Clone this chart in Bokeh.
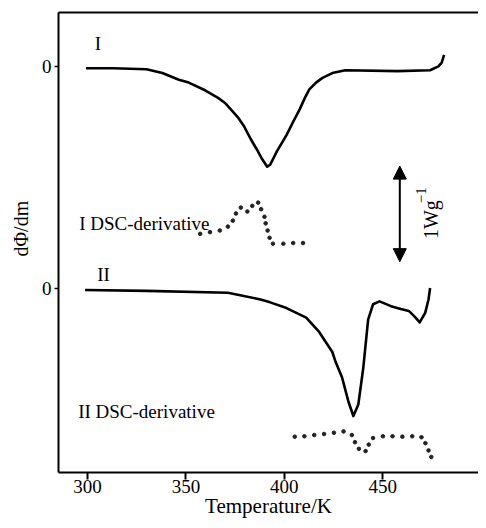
import math
from bokeh.plotting import figure
from bokeh.models import (Range1d, FixedTicker, CustomJSTickFormatter, LinearAxis,
                          Label, Arrow, NormalHead, Title)
from bokeh.embed import file_html
from bokeh.resources import INLINE

# ---- data (temperature in K, heat-flow signal in W/g relative to each baseline) ----
t_I = [299.2, 312.9, 329.9, 338.0, 346.4, 351.4, 359.7, 366.3, 369.7, 372.8, 376.3,
       379.6, 382.9, 386.3, 388.7, 391.3, 392.8, 396.2, 401.1, 404.5, 407.8, 410.2,
       412.7, 416.1, 419.4, 424.4, 431.0, 457.5, 474.1, 478.3, 480.0, 481.2]
s_I = [-0.02, -0.02, -0.03, -0.07, -0.14, -0.17, -0.25, -0.33, -0.38, -0.45, -0.53,
       -0.63, -0.76, -0.88, -0.97, -1.05, -1.03, -0.89, -0.72, -0.58, -0.45, -0.34,
       -0.24, -0.17, -0.12, -0.07, -0.04, -0.05, -0.04, 0.00, 0.04, 0.12]

t_II = [298.7, 329.9, 371.3, 376.3, 387.9, 392.8, 401.1, 411.1, 417.7, 424.4, 426.0,
        429.4, 432.6, 435.1, 437.6, 440.1, 442.6, 445.1, 448.4, 454.2, 459.2, 463.3,
        466.7, 468.8, 471.6, 473.3, 474.1]
s_II = [-0.02, -0.03, -0.05, -0.07, -0.12, -0.15, -0.21, -0.31, -0.46, -0.67, -0.77,
        -0.94, -1.19, -1.34, -1.22, -0.84, -0.33, -0.17, -0.14, -0.19, -0.22, -0.24,
        -0.31, -0.36, -0.26, -0.12, 0.00]

td_I = [357.2, 362.2, 367.2, 371.3, 373.8, 375.4, 377.9, 381.2, 383.7, 386.7, 388.2,
        389.9, 390.5, 391.5, 392.5, 394.2, 399.5, 404.5, 409.5]
d_I = [0.103, 0.121, 0.138, 0.179, 0.241, 0.316, 0.378, 0.337, 0.396, 0.430, 0.361,
       0.282, 0.213, 0.138, 0.062, 0.0, 0.0, 0.007, 0.007]

td_II = [405.3, 410.2, 415.2, 420.2, 425.2, 430.1, 434.3, 435.9, 437.9, 441.3, 442.9,
         445.1, 450.1, 455.0, 460.0, 465.0, 469.7, 471.7, 473.3, 474.7]
d_II = [-0.004, 0.0, 0.013, 0.024, 0.037, 0.051, 0.013, -0.062, -0.131, -0.155, -0.087,
        -0.018, 0.0, 0.0, -0.004, 0.0, -0.010, -0.072, -0.148, -0.216]

# vertical offsets of the stacked traces (W/g)
off_I = 0.0
off_II = -2.32
off_dI = -1.856
off_dII = -3.872

x_ticks = [300, 350, 400, 450]
y_ticks = [off_I, off_II]

FONT = "Liberation Serif"

p = figure(width=478, height=520, output_backend="svg", toolbar_location=None,
           x_range=Range1d(285.2, 498.7), y_range=Range1d(-4.251, 0.564),
           min_border_left=56, min_border_right=0, min_border_top=12, min_border_bottom=46)
p.outline_line_color = None
p.grid.visible = False
p.background_fill_color = "white"
p.border_fill_color = "white"

# curves
p.line(t_I, [v + off_I for v in s_I], line_color="black", line_width=2.6, line_join="round")
p.line(t_II, [v + off_II for v in s_II], line_color="black", line_width=2.6, line_join="round")
p.scatter(td_I, [v + off_dI for v in d_I], size=3.6, color="#222222", marker="circle")
p.scatter(td_II, [v + off_dII for v in d_II], size=3.6, color="#222222", marker="circle")

# axes
xa = p.xaxis[0]
xa.ticker = FixedTicker(ticks=x_ticks)
xa.major_label_standoff = 0
xa.major_tick_out = 7
xa.major_tick_in = 0
xa.minor_tick_out = 0
xa.minor_tick_in = 0
xa.axis_line_width = 2
xa.major_tick_line_width = 2
xa.axis_label = "Temperature/K"
xa.axis_label_standoff = -2

ya = p.yaxis[0]
ya.ticker = FixedTicker(ticks=y_ticks)
ya.formatter = CustomJSTickFormatter(code="return '0'")
ya.major_label_standoff = 3
ya.major_tick_out = 4
ya.major_tick_in = 0
ya.minor_tick_out = 0
ya.minor_tick_in = 0
ya.axis_line_width = 2
ya.major_tick_line_width = 1.5

for ax in (xa, ya):
    ax.major_label_text_font = FONT
    ax.major_label_text_font_size = "19px"
    ax.major_label_text_color = "black"
    ax.axis_label_text_font = FONT
    ax.axis_label_text_font_size = "21px"
    ax.axis_label_text_font_style = "normal"
    ax.axis_label_text_color = "black"

top = LinearAxis(ticker=FixedTicker(ticks=[]), major_tick_out=0, major_tick_in=0,
                 minor_tick_out=0, minor_tick_in=0, axis_line_width=2)
p.add_layout(top, "above")

p.add_layout(Title(text="dΦ/dm", align="left", offset=216, standoff=14,
                   text_font=FONT, text_font_size="20px", text_font_style="normal",
                   text_color="black"), "left")

# annotations
def lab(x, y, text, align="left", angle=0.0, size="19px", baseline="middle"):
    p.add_layout(Label(x=x, y=y, text=text, text_font=FONT, text_font_size=size,
                       text_align=align, text_baseline=baseline, angle=angle,
                       text_color="black"))

lab(305.2, 0.244, "I", align="center")
lab(308.1, -2.178, "II", align="center")
lab(295.7, -1.644, "I DSC-derivative")
lab(295.2, -3.608, "II DSC-derivative")
lab(474.3, -1.807, "1Wg", align="left", angle=math.pi / 2, size="20px")
lab(469.6, -1.432, "−1", align="left", angle=math.pi / 2, size="15px")

p.add_layout(Arrow(x_start=458.7, y_start=-1.544, x_end=458.7, y_end=-1.044,
                   line_width=2, line_color="black",
                   end=NormalHead(size=13, fill_color="black", line_color="black")))
p.add_layout(Arrow(x_start=458.7, y_start=-1.544, x_end=458.7, y_end=-2.044,
                   line_width=2, line_color="black",
                   end=NormalHead(size=13, fill_color="black", line_color="black")))

open("out.html", "w").write(file_html(p, INLINE))
